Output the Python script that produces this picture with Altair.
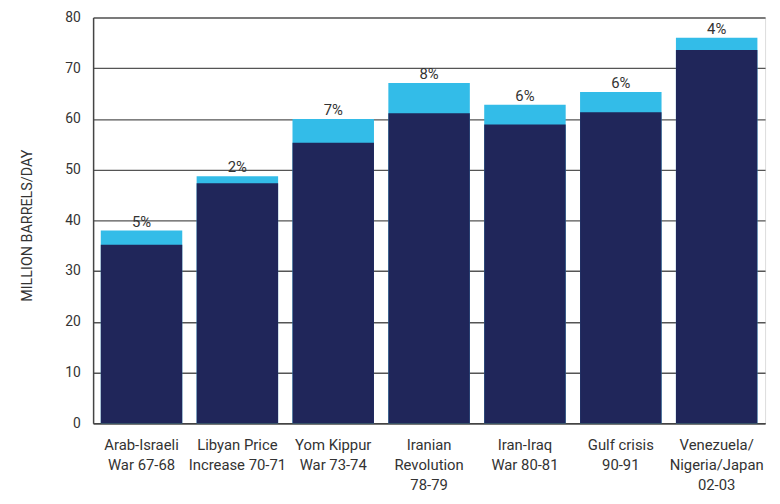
import altair as alt
import pandas as pd

categories = [
    "Arab-Israeli\nWar 67-68",
    "Libyan Price\nIncrease 70-71",
    "Yom Kippur\nWar 73-74",
    "Iranian\nRevolution\n78-79",
    "Iran-Iraq\nWar 80-81",
    "Gulf crisis\n90-91",
    "Venezuela/\nNigeria/Japan\n02-03",
]
base_values = [35.2, 47.3, 55.3, 61.1, 58.9, 61.3, 73.6]
total_values = [38.0, 48.7, 60.0, 67.1, 62.8, 65.3, 76.0]
pct_labels = ["5%", "2%", "7%", "8%", "6%", "6%", "4%"]

df = pd.DataFrame({
    "cat": categories,
    "base": base_values,
    "total": total_values,
    "pct": pct_labels,
})

FONT = "Roboto, sans-serif"
TEXT = "#333333"
GRID = "#555555"

x_enc = alt.X(
    "cat:N",
    sort=categories,
    title=None,
    scale=alt.Scale(paddingInner=0.15, paddingOuter=0.08),
    axis=alt.Axis(
        labelExpr="split(datum.label, '\\n')",
        labelAngle=0,
        labelFont=FONT,
        labelFontSize=15,
        labelColor=TEXT,
        labelLineHeight=20,
        labelPadding=15,
        ticks=False,
        domainColor="#444444",
        domainWidth=1.5,
        labelBaseline="top",
    ),
)

y_axis = alt.Axis(
    values=[0, 10, 20, 30, 40, 50, 60, 70, 80],
    grid=True,
    gridColor=GRID,
    gridWidth=1.4,
    ticks=False,
    domainColor="#444444",
    domainWidth=1.5,
    labelFont=FONT,
    labelFontSize=14,
    labelColor=TEXT,
    labelPadding=13,
    title="MILLION BARRELS/DAY",
    titleFont=FONT,
    titleFontSize=14.5,
    titleFontWeight="normal",
    titleColor=TEXT,
    titleAngle=270,
    titleX=-66,
    titleY=210,
    titleAlign="center",
    titleBaseline="middle",
)

y_scale = alt.Scale(domain=[0, 80], nice=False)

light = alt.Chart(df).mark_bar(color="#33bce8").encode(
    x=x_enc,
    y=alt.Y("total:Q", scale=y_scale, axis=y_axis),
)

dark = alt.Chart(df).mark_bar(color="#20265a").encode(
    x=x_enc,
    y=alt.Y("base:Q", scale=y_scale),
)

labels = alt.Chart(df).mark_text(
    font=FONT,
    fontSize=15,
    color=TEXT,
    baseline="alphabetic",
    dy=-4,
).encode(
    x=x_enc,
    y=alt.Y("total:Q", scale=y_scale),
    text="pct:N",
)

chart = alt.layer(light, dark, labels).properties(
    width=679,
    height=410,
    autosize=alt.AutoSizeParams(type="none"),
    padding={"left": 86, "top": 7, "right": 7, "bottom": 70},
).configure_view(
    stroke=GRID,
    strokeWidth=1.4,
).configure(background="white")

chart.save("out.html", embed_options={"renderer": "svg", "actions": False})
